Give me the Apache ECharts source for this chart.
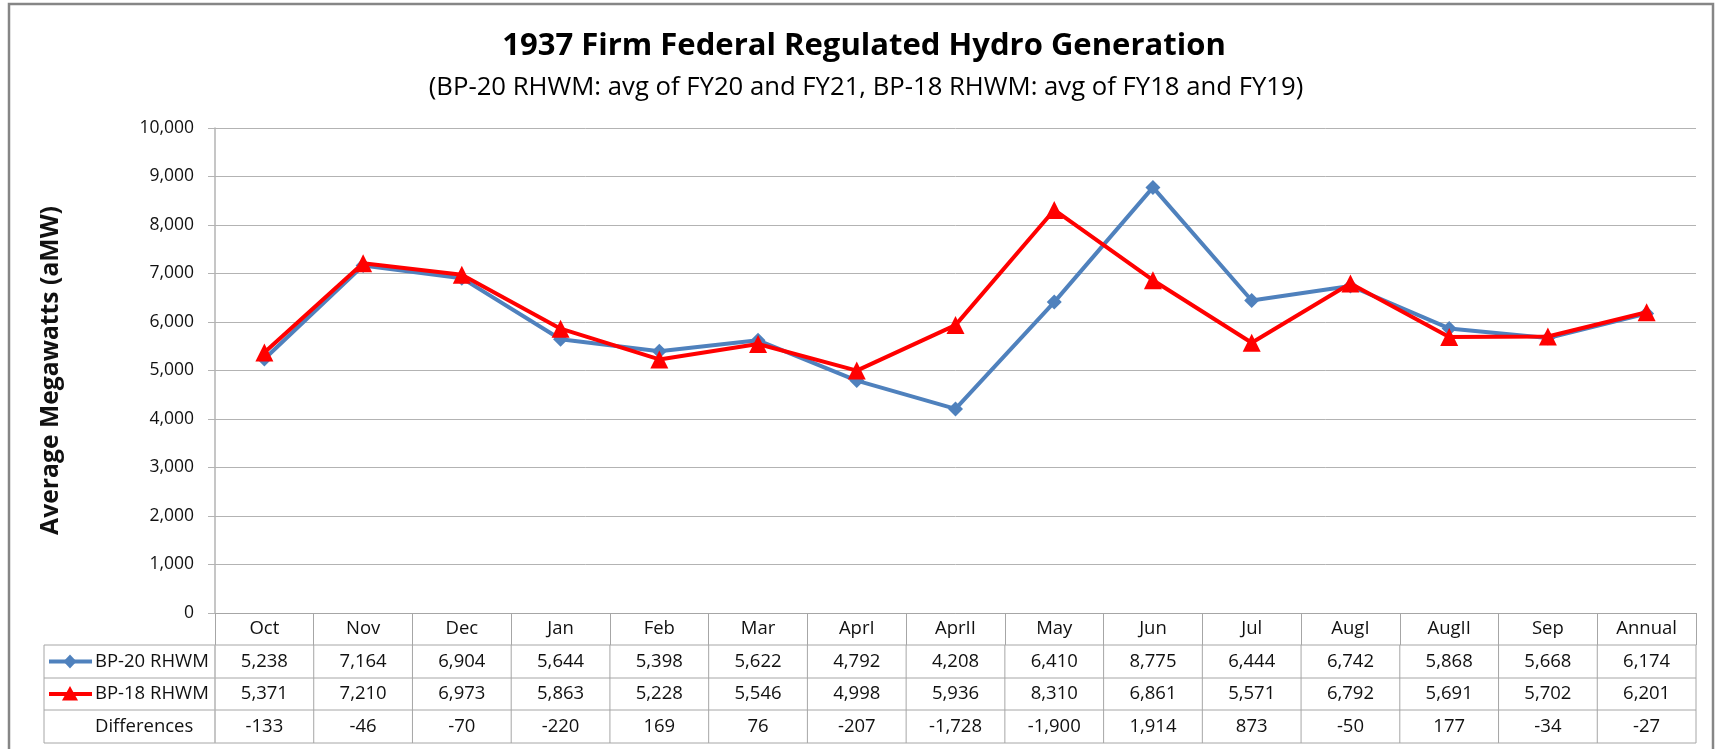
<!DOCTYPE html>
<html><head><meta charset="utf-8">
<script src="https://cdn.jsdelivr.net/npm/echarts@6/dist/echarts.min.js"></script>
<style>html,body{margin:0;padding:0;background:#fff}#c{width:1721px;height:749px}</style>
</head><body><div id="c"></div>
<script>
const categories = ['Oct','Nov','Dec','Jan','Feb','Mar','AprI','AprII','May','Jun','Jul','AugI','AugII','Sep','Annual'];
const bp20 = [5238,7164,6904,5644,5398,5622,4792,4208,6410,8775,6444,6742,5868,5668,6174];
const bp18 = [5371,7210,6973,5863,5228,5546,4998,5936,8310,6861,5571,6792,5691,5702,6201];
const differences = [-133,-46,-70,-220,169,76,-207,-1728,-1900,1914,873,-50,177,-34,-27];
const seriesNames = ['BP-20 RHWM','BP-18 RHWM'];
const diffLabel = 'Differences';
const titleText = '1937 Firm Federal Regulated Hydro Generation';
const subtitleText = '(BP-20 RHWM: avg of FY20 and FY21, BP-18 RHWM: avg of FY18 and FY19)';
const yAxisName = 'Average Megawatts (aMW)';

const FONT = "'Open Sans', 'Noto Sans', sans-serif";
const BLUE = '#4F81BD', RED = '#FF0000', GRID = '#b3b3b3', LINE = '#a6a6a6', TXT = '#111';
const fmt = v => v.toLocaleString('en-US');

function fitSize(text, weight, target) {
  const ctx = document.createElement('canvas').getContext('2d');
  ctx.font = weight + ' 100px ' + FONT;
  return 100 * target / ctx.measureText(text).width;
}
const titleSize = fitSize(titleText, 'bold', 724);
const subSize = fitSize(subtitleText, 'normal', 875);
const yNameSize = fitSize(yAxisName, 'bold', 329);

const chart = echarts.init(document.getElementById('c'));
const GL = 215, GR = 25, GT = 128, GB = 136;
chart.setOption({
  animation: false,
  backgroundColor: '#fff',
  textStyle: { fontFamily: FONT },
  grid: { left: GL, right: GR, top: GT, bottom: GB, containLabel: false },
  xAxis: {
    type: 'category', data: categories, boundaryGap: true,
    axisLine: { show: true, lineStyle: { color: LINE, width: 1 } },
    axisTick: { show: true, interval: 0, alignWithLabel: false, length: 32, lineStyle: { color: LINE } },
    axisLabel: { show: true, interval: 0, margin: 16, verticalAlign: 'middle', fontSize: 18.5, color: TXT, fontFamily: FONT },
    splitLine: { show: false }
  },
  yAxis: {
    type: 'value', min: 0, max: 10000, interval: 1000,
    name: yAxisName, nameLocation: 'middle', nameRotate: 90, nameGap: 152,
    nameTextStyle: { fontSize: yNameSize, fontWeight: 'bold', color: TXT, fontFamily: FONT },
    axisLine: { show: true, lineStyle: { color: GRID, width: 1.5 } },
    axisTick: { show: true, length: 7, lineStyle: { color: GRID } },
    axisLabel: { margin: 21, fontSize: 17.5, color: TXT, fontFamily: FONT, formatter: v => fmt(v) },
    splitLine: { show: true, lineStyle: { color: GRID, width: 1 } }
  },
  series: [
    { name: seriesNames[0], type: 'line', data: bp20, symbol: 'diamond', symbolSize: 15,
      lineStyle: { color: BLUE, width: 4 }, itemStyle: { color: BLUE }, z: 2 },
    { name: seriesNames[1], type: 'line', data: bp18, symbol: 'triangle', symbolSize: 18,
      lineStyle: { color: RED, width: 4 }, itemStyle: { color: RED }, z: 3 }
  ]
});

// Build title, border and data table
const c0 = chart.convertToPixel({ xAxisIndex: 0 }, 0);
const c1 = chart.convertToPixel({ xAxisIndex: 0 }, 1);
const colW = c1 - c0;
const yZero = chart.convertToPixel({ yAxisIndex: 0 }, 0);
const tableLeft = 44;
const tableRight = c0 - colW / 2 + colW * categories.length;
const rowTops = [yZero + 32, yZero + 65, yZero + 97, yZero + 130];
const g = [];
g.push({ type: 'rect', shape: { x: 9, y: 4, width: 1704, height: 800 }, style: { fill: null, stroke: '#868686', lineWidth: 2.5 }, silent: true, z: 0 });
g.push({ type: 'text', x: 864, y: 46, style: { text: titleText, font: 'bold ' + titleSize + 'px ' + FONT, fill: '#000', textAlign: 'center', textVerticalAlign: 'middle' } });
g.push({ type: 'text', x: 866, y: 88, style: { text: subtitleText, font: subSize + 'px ' + FONT, fill: '#000', textAlign: 'center', textVerticalAlign: 'middle' } });
rowTops.forEach(y => g.push({ type: 'line', shape: { x1: tableLeft, y1: y, x2: tableRight, y2: y }, style: { stroke: LINE, lineWidth: 1 } }));
g.push({ type: 'line', shape: { x1: tableLeft, y1: rowTops[0], x2: tableLeft, y2: rowTops[3] }, style: { stroke: LINE, lineWidth: 1 } });
for (let i = 0; i <= categories.length; i++) {
  const x = c0 - colW / 2 + colW * i;
  g.push({ type: 'line', shape: { x1: x, y1: rowTops[0], x2: x, y2: rowTops[3] }, style: { stroke: i === 0 ? GRID : LINE, lineWidth: i === 0 ? 1.5 : 1 } });
}
const rows = [bp20, bp18, differences];
const rowLabels = [seriesNames[0], seriesNames[1], diffLabel];
rows.forEach((arr, r) => {
  const yc = (rowTops[r] + rowTops[r + 1]) / 2;
  g.push({ type: 'text', x: 95, y: yc, style: { text: rowLabels[r], font: '18.5px ' + FONT, fill: TXT, textAlign: 'left', textVerticalAlign: 'middle' } });
  arr.forEach((v, i) => {
    const x = chart.convertToPixel({ xAxisIndex: 0 }, i);
    g.push({ type: 'text', x: x, y: yc, style: { text: fmt(v), font: '18.5px ' + FONT, fill: TXT, textAlign: 'center', textVerticalAlign: 'middle' } });
  });
});
const k1y = (rowTops[0] + rowTops[1]) / 2, k2y = (rowTops[1] + rowTops[2]) / 2;
g.push({ type: 'line', shape: { x1: 49, y1: k1y, x2: 92, y2: k1y }, style: { stroke: BLUE, lineWidth: 4 } });
g.push({ type: 'polygon', shape: { points: [[70, k1y - 7], [76.5, k1y], [70, k1y + 7], [63.5, k1y]] }, style: { fill: BLUE } });
g.push({ type: 'line', shape: { x1: 49, y1: k2y, x2: 92, y2: k2y }, style: { stroke: RED, lineWidth: 4 } });
g.push({ type: 'polygon', shape: { points: [[70, k2y - 8], [78, k2y + 6.5], [62, k2y + 6.5]] }, style: { fill: RED } });
chart.setOption({ graphic: g });
</script>
</body></html>
